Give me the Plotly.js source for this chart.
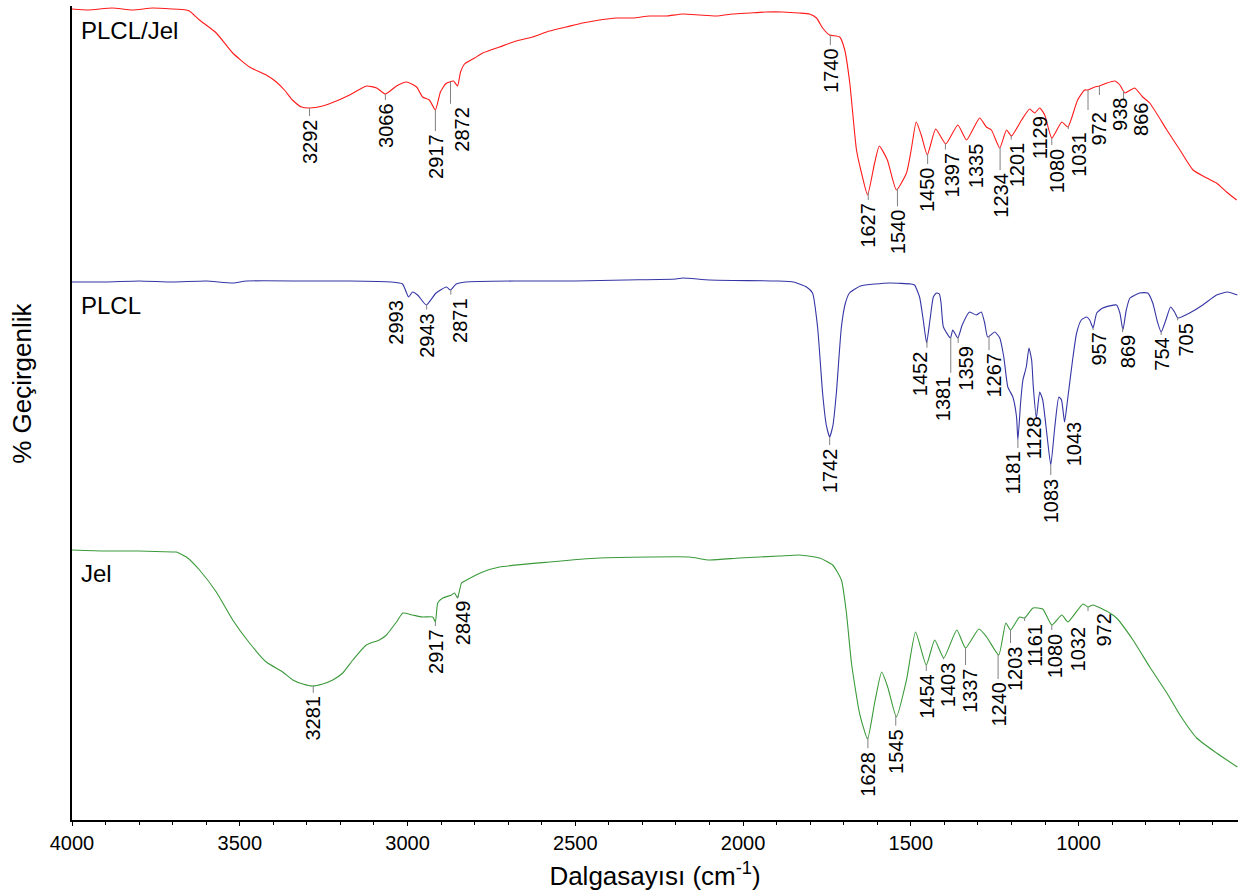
<!DOCTYPE html>
<html><head><meta charset="utf-8">
<script src="https://cdn.plot.ly/plotly-3.0.1.min.js"></script>
<style>html,body{margin:0;padding:0;background:#fff}#chart{width:1241px;height:894px}</style>
</head><body><div id="chart"></div>
<script>
// ---- Data (wavenumber cm-1, transmittance in arbitrary stacked units) ----
const wnPLCLJel = [4000,3950,3880,3820,3760,3700,3660,3650,3620,3570,3521,3471,3421,3391,3367,3343,3316,3292,3253,3212,3173,3122,3092,3066,3033,3003,2973,2955,2935,2917,2902,2887,2875,2863,2851,2842,2830,2800,2776,2726,2676,2627,2577,2527,2478,2428,2377,2328,2279,2229,2180,2130,2080,2031,1980,1931,1882,1832,1802,1781,1763,1742,1712,1697,1682,1662,1647,1629,1608,1594,1570,1543,1513,1499,1484,1469,1451,1426,1396,1360,1334,1295,1275,1260,1235,1215,1200,1170,1146,1131,1116,1101,1080,1050,1032,1003,982,972,952,938,916,892,877,862,833,809,788,737,698,659,618,589,559,529];
const tPLCLJel  = [811,810,812,810,812,811,810,809,800,787,767,753,745,738,730,720,713,712,714,719,725,734,732,726,734,738,733,723,720,710,728,736,738,739,734,748,756,762,767,773,779,783,789,793,797,800,802,802,804,804,806,805,804,806,807,808,808,807,806,802,792,785,783,770,737,670,647,625,657,674,660,630,647,670,698,685,665,691,676,695,680,702,693,690,672,690,684,700,711,707,712,705,682,698,693,720,730,730,733,734,737,739,735,727,732,723,717,690,670,650,642,637,628,620];

const wnPLCL = [4000,3900,3800,3700,3600,3520,3480,3300,3173,3050,3015,2997,2985,2970,2944,2915,2884,2872,2855,2827,2676,2500,2350,2200,2180,2100,1900,1850,1811,1793,1778,1763,1752,1742,1732,1722,1707,1695,1683,1650,1563,1500,1489,1474,1463,1453,1443,1433,1424,1415,1410,1403,1382,1375,1360,1347,1325,1305,1290,1280,1271,1250,1235,1223,1211,1196,1185,1181,1173,1166,1156,1148,1140,1135,1126,1116,1107,1095,1083,1071,1059,1051,1042,1033,1018,1006,992,976,967,957,946,928,887,877,868,858,847,818,794,779,765,754,740,726,714,704,669,630,589,556,527];
const tPLCL  = [538,538,539,538,539,537,539,539,539,538,536,523,528,525,515,527,533,530,536,538,539,539,540,541,542,540,539,538,533,527,493,427,395,383,395,427,493,517,527,534,537,536,535,523,500,477,500,523,527,526,517,493,482,490,482,495,508,505,508,497,483,488,482,463,433,423,403,380,417,440,453,472,460,433,402,428,420,387,355,393,423,420,398,420,460,487,500,503,500,492,507,512,515,507,490,510,522,527,527,517,498,488,500,513,508,502,507,515,525,528,525];

const wnJel = [4000,3900,3800,3700,3689,3659,3620,3570,3521,3471,3421,3372,3342,3312,3283,3253,3223,3193,3163,3123,3084,3063,3033,3014,2985,2955,2925,2917,2910,2895,2869,2860,2851,2839,2824,2776,2726,2577,2428,2279,2160,2100,2011,1891,1831,1772,1733,1707,1692,1677,1653,1629,1608,1587,1569,1543,1513,1486,1454,1429,1402,1363,1337,1297,1274,1238,1217,1203,1176,1161,1136,1107,1080,1050,1032,987,972,957,907,887,838,788,737,698,648,589,527];
const tJel  = [270,269,269,268,268,263,250,228,200,177,158,148,140,136,134,136,140,147,160,175,180,185,198,207,205,203,203,198,217,222,225,227,222,237,240,248,253,258,262,263,263,260,262,264,265,262,255,240,207,157,107,81,117,148,133,103,140,188,155,180,162,190,172,191,183,165,197,190,203,202,212,211,195,205,198,216,213,215,207,202,180,153,127,105,82,67,53];

const seriesNames = ["PLCL/Jel", "PLCL", "Jel"];
const seriesColors = ["#ff1a1a", "#3535a5", "#3a9a3a"];

// labelled peak wavenumbers
const peaksPLCLJel = [3292,3066,2917,2872,1740,1627,1540,1450,1397,1335,1234,1201,1129,1080,1031,972,938,866];
const peaksPLCL    = [2993,2943,2871,1742,1452,1381,1359,1267,1181,1128,1083,1043,957,869,754,705];
const peaksJel     = [3281,2917,2849,1628,1545,1454,1403,1337,1240,1203,1161,1080,1032,972];

// label placement (pixels): [gap below curve, horizontal shift]
const offPLCLJel = [[10,0],[8,0],[23,0],[24,12],[12,0],[10,0],[20,0],[12,0],[8,7],[3,10],[25,0],[6,6],[3,4],[9,5],[5,10],[22,10],[11,20],[11,18]];
const offPLCL    = [[3,-14],[7,0],[7,9],[10,0],[9,-7],[38,-7],[8,7],[16,5],[10,-5],[4,-2],[12,0],[1,10],[4,5],[6,5],[5,0],[5,8]];
const offJel     = [[9,0],[6,0],[4,5],[13,0],[13,0],[8,0],[4,4],[19,4],[27,0],[15,4],[5,10],[7,3],[3,10],[6,15]];

// series name label vertical position (same units as data)
const nameY = [790, 515, 247];

const FONT = "Arial, 'Liberation Sans', sans-serif";

function interp(wn, xs, ys) {
  for (let i = 0; i < xs.length - 1; i++) {
    const a = xs[i], b = xs[i + 1];
    if (wn <= a && wn >= b) {
      const f = (a - wn) / (a - b);
      return ys[i] + f * (ys[i + 1] - ys[i]);
    }
  }
  return ys[ys.length - 1];
}

const sets = [
  {x: wnPLCLJel, y: tPLCLJel, peaks: peaksPLCLJel, off: offPLCLJel},
  {x: wnPLCL, y: tPLCL, peaks: peaksPLCL, off: offPLCL},
  {x: wnJel, y: tJel, peaks: peaksJel, off: offJel}
];

const traces = sets.map((s, i) => ({
  type: "scatter", mode: "lines", x: s.x, y: s.y, name: seriesNames[i],
  line: {color: seriesColors[i], width: 1.1, shape: "spline", smoothing: 0.5}, hoverinfo: "skip"
}));

const annotations = [];
const shapes = [];
sets.forEach((s, i) => {
  s.peaks.forEach((p, j) => {
    const yv = interp(p, s.x, s.y);
    const gap = s.off[j][0], dx = s.off[j][1];
    annotations.push({
      x: p, y: yv, xref: "x", yref: "y",
      text: String(p), textangle: -90, showarrow: false,
      xanchor: "center", yanchor: "top", xshift: dx, yshift: -gap,
      borderpad: 0,
      font: {family: FONT, size: 20, color: "#000"}
    });
    if (gap > 3) {
      shapes.push({
        type: "line", xref: "x", yref: "y", ysizemode: "pixel", yanchor: yv,
        x0: p, x1: p, y0: 0, y1: -(gap - 2),
        line: {color: "#808080", width: 1}
      });
    }
  });
  annotations.push({
    x: 3978, y: nameY[i], xref: "x", yref: "y", xanchor: "left", yanchor: "middle",
    text: seriesNames[i], showarrow: false,
    font: {family: FONT, size: 24, color: "#000"}
  });
});
annotations.push({
  x: -0.0429, y: 0.537, xref: "paper", yref: "paper", xanchor: "center", yanchor: "middle",
  text: "% Geçirgenlik", textangle: -90, showarrow: false,
  font: {family: FONT, size: 26, color: "#000"}
});

const layout = {
  width: 1241, height: 894,
  margin: {l: 72, r: 3, t: 6, b: 74},
  paper_bgcolor: "#fff", plot_bgcolor: "#fff",
  showlegend: false, hovermode: false,
  font: {family: FONT, color: "#000"},
  xaxis: {
    range: [4000, 525], dtick: 500, tick0: 0,
    showline: true, linecolor: "#000", linewidth: 2,
    ticks: "outside", ticklen: 4, tickwidth: 1, tickcolor: "#000",
    minor: {ticks: "outside", dtick: 100, ticklen: 3, tickwidth: 1, tickcolor: "#000"},
    showgrid: false, zeroline: false,
    tickfont: {family: FONT, size: 20, color: "#000"},
    title: {text: "Dalgasayısı (cm<sup>-1</sup>)", font: {family: FONT, size: 26, color: "#000"}, standoff: 14}
  },
  yaxis: {
    range: [0, 814], showline: true, linecolor: "#000", linewidth: 2,
    ticks: "", showticklabels: false, showgrid: false, zeroline: false
  },
  shapes: shapes,
  annotations: annotations
};

Plotly.newPlot("chart", traces, layout, {displayModeBar: false, staticPlot: true});
</script>
</body></html>
